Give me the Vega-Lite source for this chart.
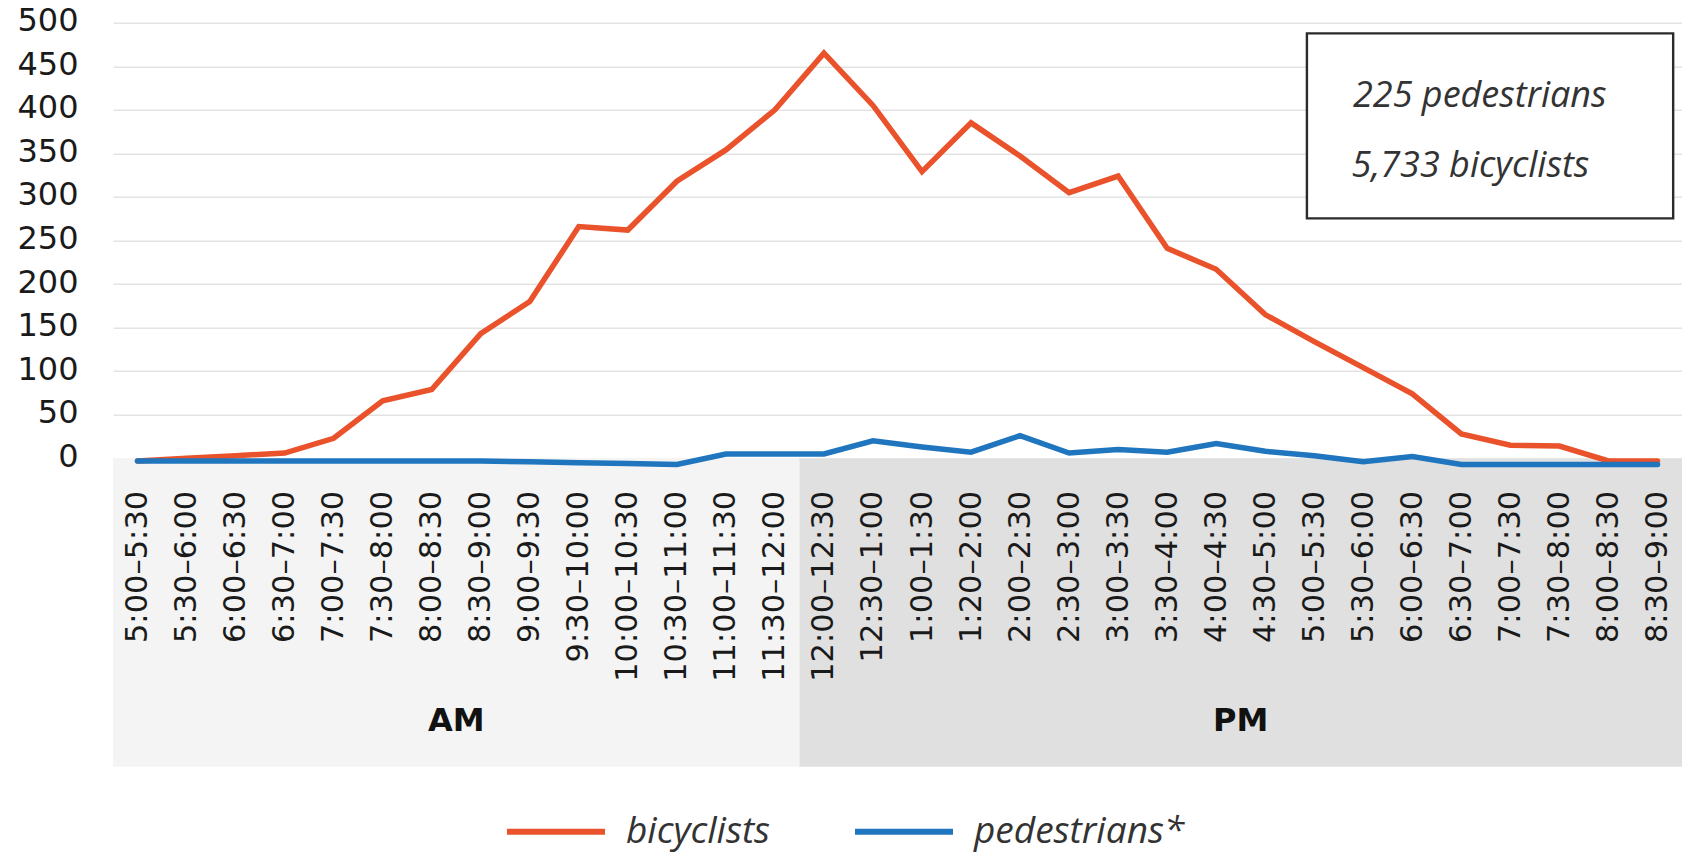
{
  "$schema": "https://vega.github.io/schema/vega-lite/v6.json",
  "width": 1569,
  "height": 435.6,
  "autosize": {"type": "none"},
  "padding": {"left": 113, "top": 22.7, "right": 0, "bottom": 395.7},
  "background": "white",
  "config": {
    "view": {"stroke": null},
    "axisY": {
      "grid": true, "gridColor": "#e3e3e3", "gridWidth": 1.5,
      "domain": false, "ticks": false, "tickCount": 10,
      "labelFont": "DejaVu Sans", "labelFontSize": 32, "labelColor": "#1a1a1a",
      "labelPadding": 35, "labelOffset": -2, "title": null
    },
    "axisX": {
      "grid": false, "domain": false, "ticks": false, "zindex": 2,
      "labelAngle": -90, "labelFont": "DejaVu Sans", "labelFontSize": 30.5,
      "labelColor": "#1a1a1a", "labelPadding": 32, "labelOverlap": false,
      "labelLimit": 400, "title": null
    },
    "legend": {
      "orient": "none", "legendX": 391, "legendY": 757,
      "direction": "horizontal", "symbolType": "stroke",
      "symbolSize": 9604, "symbolStrokeWidth": 6,
      "labelFont": "Open Sans", "labelFontStyle": "italic", "labelFontSize": 37,
      "labelColor": "#333333", "labelOffset": 18, "labelLimit": 400,
      "columnPadding": 72, "title": null
    }
  },
  "datasets": {
    "periods": [
      {"period": "AM", "start": 0, "end": 14, "mid": 7},
      {"period": "PM", "start": 14, "end": 32, "mid": 23}
    ],
    "box": [
      {"x0": 24.35, "x1": 31.82, "top": 487.8, "bottom": 275.4}
    ],
    "notes": [
      {"note": "225 pedestrians", "pos": 25.29, "value": 402.8},
      {"note": "5,733 bicyclists", "pos": 25.26, "value": 323.2}
    ],
    "counts": [
      {"slot": "5:00–5:30 AM", "series": "bicyclists", "count": -3},
      {"slot": "5:30–6:00 AM", "series": "bicyclists", "count": 0},
      {"slot": "6:00–6:30 AM", "series": "bicyclists", "count": 3},
      {"slot": "6:30–7:00 AM", "series": "bicyclists", "count": 6},
      {"slot": "7:00–7:30 AM", "series": "bicyclists", "count": 23},
      {"slot": "7:30–8:00 AM", "series": "bicyclists", "count": 66},
      {"slot": "8:00–8:30 AM", "series": "bicyclists", "count": 79},
      {"slot": "8:30–9:00 AM", "series": "bicyclists", "count": 143},
      {"slot": "9:00–9:30 AM", "series": "bicyclists", "count": 180},
      {"slot": "9:30–10:00 AM", "series": "bicyclists", "count": 266},
      {"slot": "10:00–10:30 AM", "series": "bicyclists", "count": 262},
      {"slot": "10:30–11:00 AM", "series": "bicyclists", "count": 318},
      {"slot": "11:00–11:30 AM", "series": "bicyclists", "count": 354},
      {"slot": "11:30–12:00 AM", "series": "bicyclists", "count": 400},
      {"slot": "12:00–12:30 PM", "series": "bicyclists", "count": 465},
      {"slot": "12:30–1:00 PM", "series": "bicyclists", "count": 405},
      {"slot": "1:00–1:30 PM", "series": "bicyclists", "count": 329},
      {"slot": "1:20–2:00 PM", "series": "bicyclists", "count": 385},
      {"slot": "2:00–2:30 PM", "series": "bicyclists", "count": 347},
      {"slot": "2:30–3:00 PM", "series": "bicyclists", "count": 305},
      {"slot": "3:00–3:30 PM", "series": "bicyclists", "count": 324},
      {"slot": "3:30–4:00 PM", "series": "bicyclists", "count": 241},
      {"slot": "4:00–4:30 PM", "series": "bicyclists", "count": 217},
      {"slot": "4:30–5:00 PM", "series": "bicyclists", "count": 165},
      {"slot": "5:00–5:30 PM", "series": "bicyclists", "count": 134},
      {"slot": "5:30–6:00 PM", "series": "bicyclists", "count": 104},
      {"slot": "6:00–6:30 PM", "series": "bicyclists", "count": 74},
      {"slot": "6:30–7:00 PM", "series": "bicyclists", "count": 28},
      {"slot": "7:00–7:30 PM", "series": "bicyclists", "count": 15},
      {"slot": "7:30–8:00 PM", "series": "bicyclists", "count": 14},
      {"slot": "8:00–8:30 PM", "series": "bicyclists", "count": -3},
      {"slot": "8:30–9:00 PM", "series": "bicyclists", "count": -3},
      {"slot": "5:00–5:30 AM", "series": "pedestrians*", "count": -3},
      {"slot": "5:30–6:00 AM", "series": "pedestrians*", "count": -3},
      {"slot": "6:00–6:30 AM", "series": "pedestrians*", "count": -3},
      {"slot": "6:30–7:00 AM", "series": "pedestrians*", "count": -3},
      {"slot": "7:00–7:30 AM", "series": "pedestrians*", "count": -3},
      {"slot": "7:30–8:00 AM", "series": "pedestrians*", "count": -3},
      {"slot": "8:00–8:30 AM", "series": "pedestrians*", "count": -3},
      {"slot": "8:30–9:00 AM", "series": "pedestrians*", "count": -3},
      {"slot": "9:00–9:30 AM", "series": "pedestrians*", "count": -4},
      {"slot": "9:30–10:00 AM", "series": "pedestrians*", "count": -5},
      {"slot": "10:00–10:30 AM", "series": "pedestrians*", "count": -6},
      {"slot": "10:30–11:00 AM", "series": "pedestrians*", "count": -7},
      {"slot": "11:00–11:30 AM", "series": "pedestrians*", "count": 5},
      {"slot": "11:30–12:00 AM", "series": "pedestrians*", "count": 5},
      {"slot": "12:00–12:30 PM", "series": "pedestrians*", "count": 5},
      {"slot": "12:30–1:00 PM", "series": "pedestrians*", "count": 20},
      {"slot": "1:00–1:30 PM", "series": "pedestrians*", "count": 13},
      {"slot": "1:20–2:00 PM", "series": "pedestrians*", "count": 7},
      {"slot": "2:00–2:30 PM", "series": "pedestrians*", "count": 26},
      {"slot": "2:30–3:00 PM", "series": "pedestrians*", "count": 6},
      {"slot": "3:00–3:30 PM", "series": "pedestrians*", "count": 10},
      {"slot": "3:30–4:00 PM", "series": "pedestrians*", "count": 7},
      {"slot": "4:00–4:30 PM", "series": "pedestrians*", "count": 17},
      {"slot": "4:30–5:00 PM", "series": "pedestrians*", "count": 8},
      {"slot": "5:00–5:30 PM", "series": "pedestrians*", "count": 3},
      {"slot": "5:30–6:00 PM", "series": "pedestrians*", "count": -4},
      {"slot": "6:00–6:30 PM", "series": "pedestrians*", "count": 2},
      {"slot": "6:30–7:00 PM", "series": "pedestrians*", "count": -7},
      {"slot": "7:00–7:30 PM", "series": "pedestrians*", "count": -7},
      {"slot": "7:30–8:00 PM", "series": "pedestrians*", "count": -7},
      {"slot": "8:00–8:30 PM", "series": "pedestrians*", "count": -7},
      {"slot": "8:30–9:00 PM", "series": "pedestrians*", "count": -7}
    ]
  },
  "layer": [
    {
      "data": {"name": "periods"},
      "mark": {"type": "rect"},
      "encoding": {
        "x": {"field": "start", "type": "quantitative", "scale": {"domain": [0, 32], "nice": false, "zero": false}, "axis": null},
        "x2": {"field": "end"},
        "y": {"datum": 0, "type": "quantitative", "scale": {"domain": [0, 500], "nice": false, "zero": false}},
        "y2": {"datum": -354},
        "fill": {"field": "period", "type": "nominal", "scale": {"domain": ["AM", "PM"], "range": ["#f4f4f4", "#e0e0e0"]}, "legend": null}
      }
    },
    {
      "data": {"name": "counts"},
      "mark": {"type": "line", "strokeWidth": 5.5, "strokeCap": "round", "strokeJoin": "miter"},
      "encoding": {
        "x": {
          "field": "slot", "type": "nominal", "sort": null,
          "scale": {"type": "point", "padding": 0.5},
          "axis": {"labelExpr": "split(datum.label, ' ')[0]", "zindex": 2}
        },
        "y": {"field": "count", "type": "quantitative", "title": null, "scale": {"domain": [0, 500], "nice": false, "zero": false}},
        "color": {
          "field": "series", "type": "nominal",
          "scale": {"domain": ["bicyclists", "pedestrians*"], "range": ["#E9522A", "#1F75BE"]}
        }
      }
    },
    {
      "data": {"name": "box"},
      "mark": {"type": "rect", "fill": "white", "stroke": "#2b2b2b", "strokeWidth": 2.4},
      "encoding": {
        "x": {"field": "x0", "type": "quantitative", "scale": {"domain": [0, 32], "nice": false, "zero": false}, "axis": null},
        "x2": {"field": "x1"},
        "y": {"field": "top", "type": "quantitative", "title": null, "scale": {"domain": [0, 500], "nice": false, "zero": false}},
        "y2": {"field": "bottom"}
      }
    },
    {
      "data": {"name": "notes"},
      "mark": {"type": "text", "align": "left", "baseline": "alphabetic", "font": "Open Sans", "fontStyle": "italic", "fontSize": 36, "color": "#333333"},
      "encoding": {
        "x": {"field": "pos", "type": "quantitative", "scale": {"domain": [0, 32], "nice": false, "zero": false}, "axis": null},
        "y": {"field": "value", "type": "quantitative", "title": null, "scale": {"domain": [0, 500], "nice": false, "zero": false}},
        "text": {"field": "note"}
      }
    },
    {
      "data": {"name": "periods"},
      "mark": {"type": "text", "align": "center", "baseline": "middle", "font": "DejaVu Sans", "fontWeight": "bold", "fontSize": 32, "color": "#111111"},
      "encoding": {
        "x": {"field": "mid", "type": "quantitative", "scale": {"domain": [0, 32], "nice": false, "zero": false}, "axis": null},
        "y": {"datum": -301.5, "type": "quantitative", "scale": {"domain": [0, 500], "nice": false, "zero": false}},
        "text": {"field": "period"}
      }
    }
  ],
  "resolve": {"scale": {"x": "independent"}}
}
